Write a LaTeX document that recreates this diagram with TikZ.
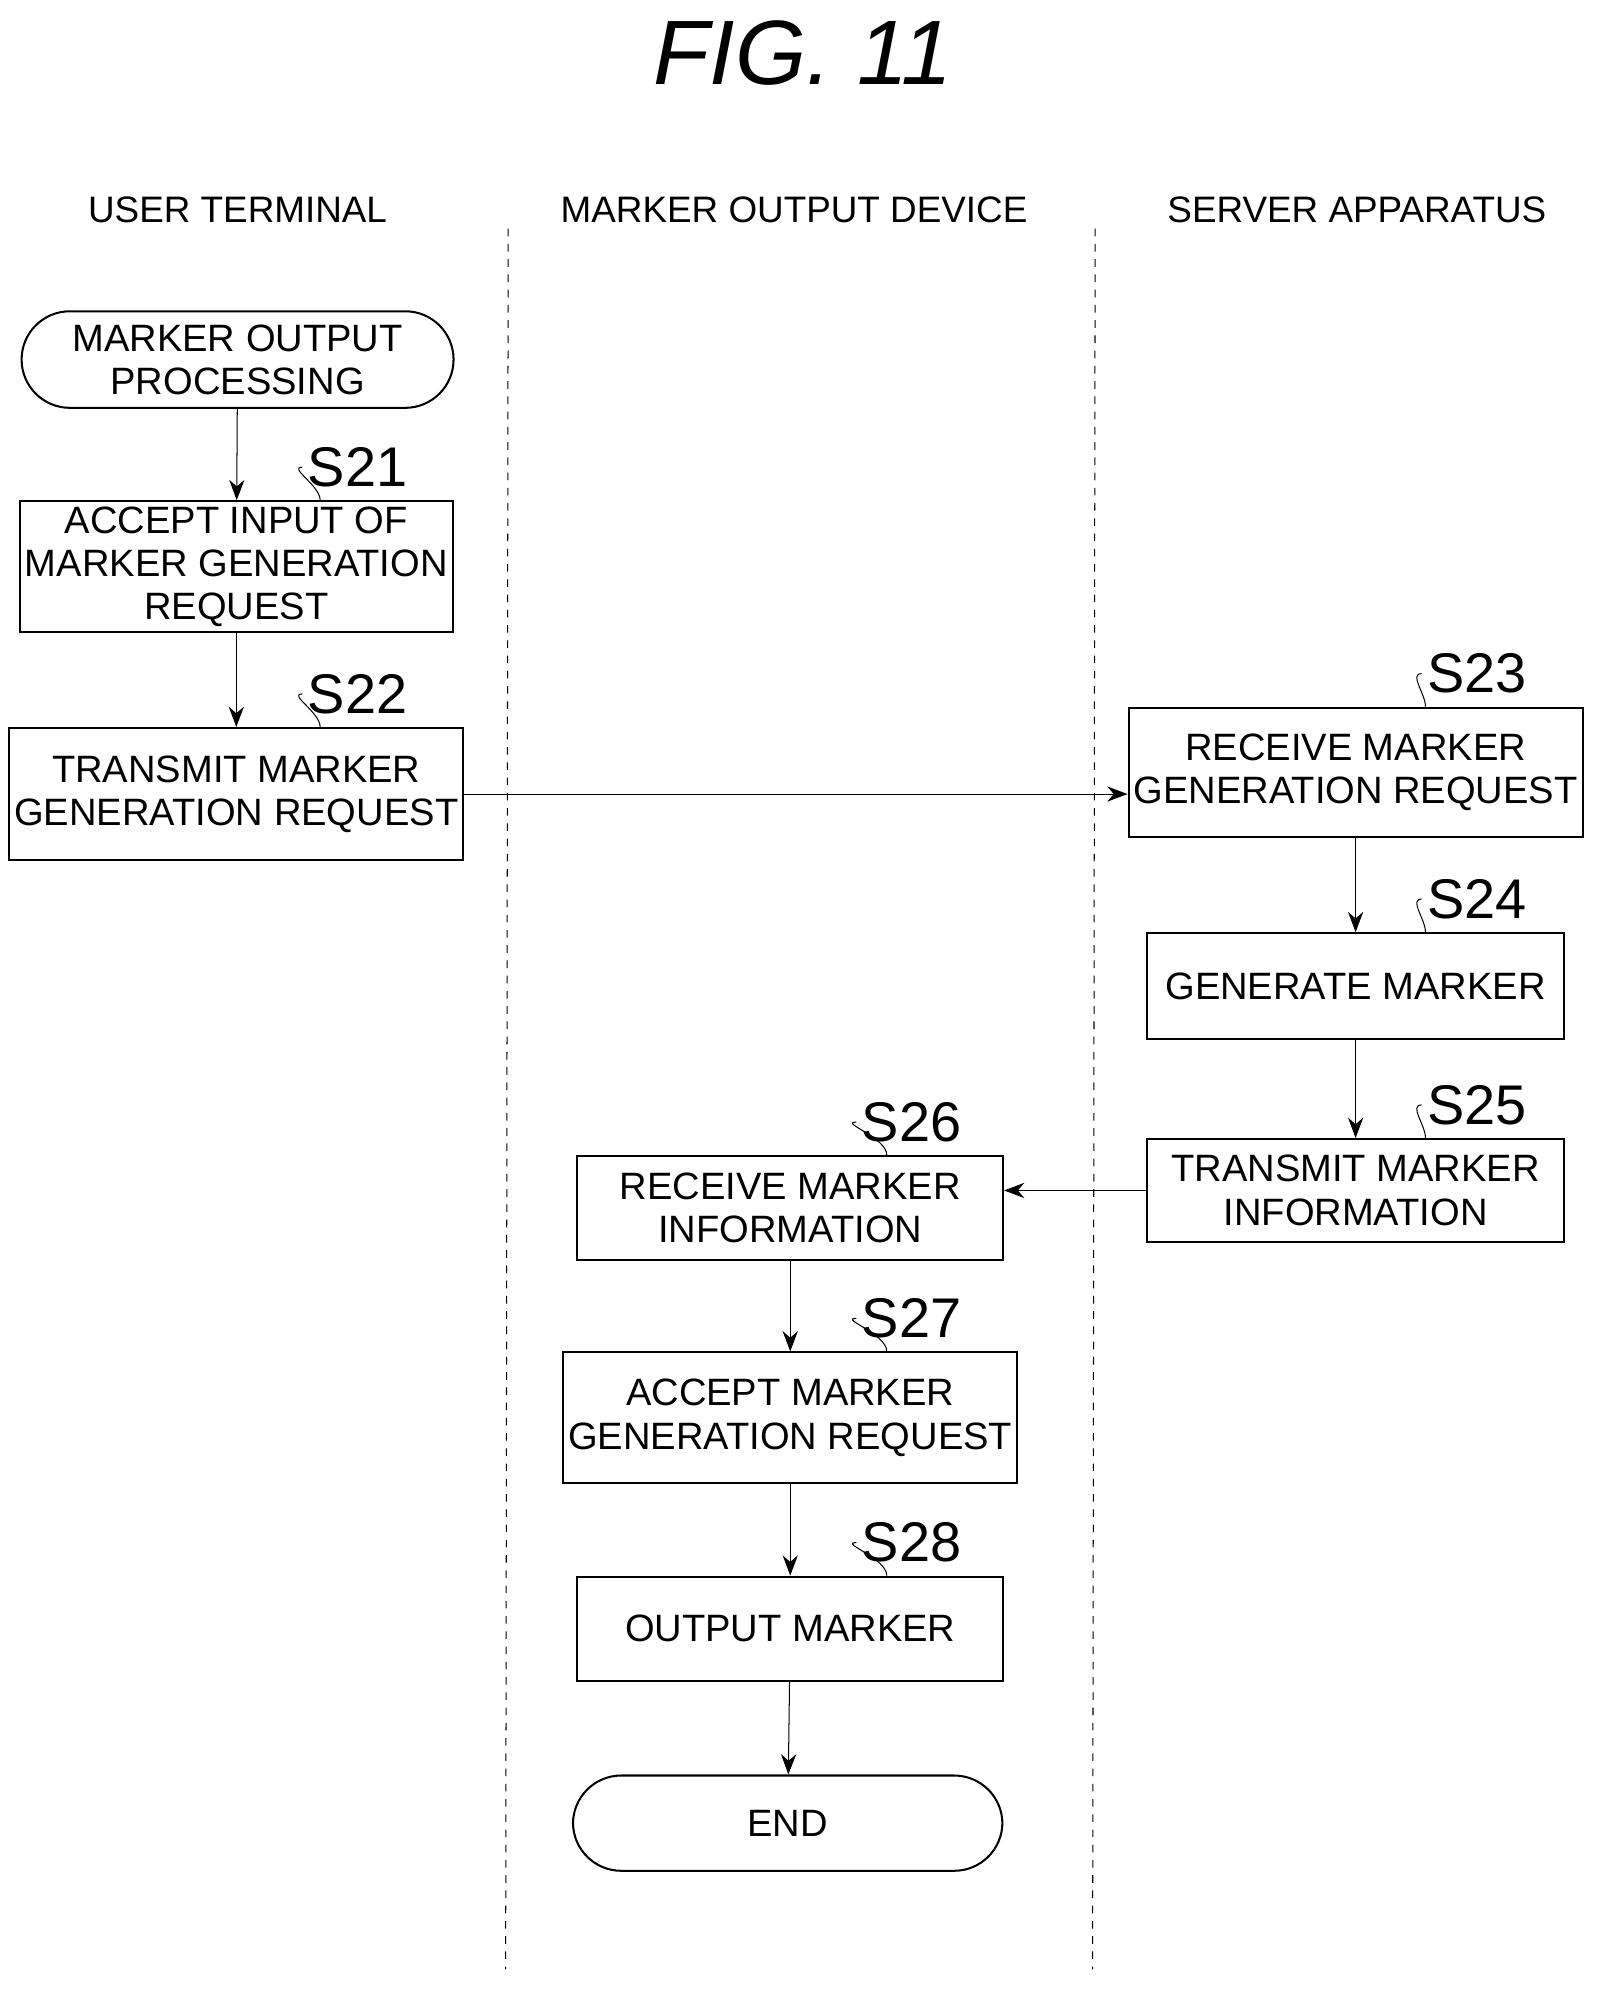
\documentclass[tikz,border=0pt]{standalone}
\usepackage{fontspec}
\setmainfont{Liberation Sans}
\usetikzlibrary{arrows.meta}

\tikzset{
  box/.style={draw,thick,align=center,inner sep=2pt,font=\fontsize{15}{17}\selectfont},
  term/.style={box,rounded corners=19pt},
  flow/.style={-{Stealth[length=8pt,width=6pt]}},
  steplbl/.style={font=\fontsize{22}{24}\selectfont,inner sep=0pt},
  lane/.style={dashed,thin},
  head/.style={font=\fontsize{14.5}{16}\selectfont},
}

\begin{document}
\begin{tikzpicture}[x=0.5pt,y=-0.5pt]
\useasboundingbox (0,0) rectangle (1270,1575) ;
\node [font=\fontsize{36}{40}\selectfont\itshape] (title) at (632,42) {FIG. 11} ;
\node [head] (hut) at (187,165) {USER TERMINAL} ;
\node [head] (hmo) at (625,165) {MARKER OUTPUT DEVICE} ;
\node [head] (hsa) at (1068,165) {SERVER APPARATUS} ;
\draw [lane] (400,180) -- (398,1550)
             (862,180) -- (860,1550) ;
% user terminal
\node [term,minimum width=170pt,minimum height=38pt] (start) at (187,283)
  {MARKER OUTPUT\\PROCESSING} ;
\node [box,minimum width=169pt,minimum height=51.5pt] (s21) at (186,446)
  {ACCEPT INPUT OF\\MARKER GENERATION\\REQUEST} ;
\node [box,minimum width=169pt,minimum height=52pt] (s22) at (186,625)
  {TRANSMIT MARKER\\GENERATION REQUEST} ;
% server apparatus
\node [box,minimum width=164pt,minimum height=51pt] (s23) at (1067,608)
  {RECEIVE MARKER\\GENERATION REQUEST} ;
\node [box,minimum width=164pt,minimum height=41.5pt] (s24) at (1067,776)
  {GENERATE MARKER} ;
\node [box,minimum width=164pt,minimum height=40.5pt] (s25) at (1067,937)
  {TRANSMIT MARKER\\INFORMATION} ;
% marker output device
\node [box,minimum width=167.5pt,minimum height=41pt] (s26) at (622,951)
  {RECEIVE MARKER\\INFORMATION} ;
\node [box,minimum width=167.5pt,minimum height=51.5pt] (s27) at (622,1116)
  {ACCEPT MARKER\\GENERATION REQUEST} ;
\node [box,minimum width=167.5pt,minimum height=41pt] (s28) at (622,1282)
  {OUTPUT MARKER} ;
\node [term,minimum width=169pt,minimum height=37.5pt] (end) at (620,1435) {END} ;
% step labels
\foreach \n/\t/\dx in {s21/S21/66, s22/S22/66, s23/S23/55, s24/S24/55,
                       s25/S25/55, s26/S26/76, s27/S27/76, s28/S28/76} {
  \node [steplbl,anchor=west] (l\n) at ([xshift=28pt,yshift=13pt]\n.north) {\t} ;
  \draw ([xshift=\dx/2]\n.north) to[out=90,in=180] ([xshift=-2pt]l\n.west) ;
}
% connectors
\draw [flow] (start) -- (s21) ;
\draw [flow] (s21) -- (s22) ;
\draw [flow] (s22.east) -- (s22.east -| s23.west) ;
\draw [flow] (s23) -- (s24) ;
\draw [flow] (s24) -- (s25) ;
\draw [flow] (s25.west) -- (s25.west -| s26.east) ;
\draw [flow] (s26) -- (s27) ;
\draw [flow] (s27) -- (s28) ;
\draw [flow] (s28) -- (end) ;
\end{tikzpicture}
\end{document}
